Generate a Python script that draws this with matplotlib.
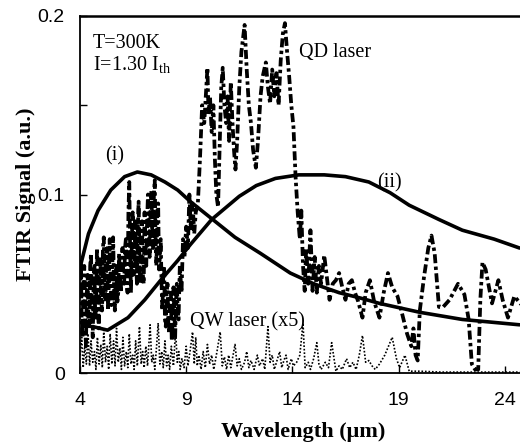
import matplotlib
matplotlib.use("Agg")
import matplotlib.pyplot as plt

# ---- data ----
curve_i_x = [4.0, 4.4, 4.85, 5.45, 6.1, 6.7, 7.35, 8.0, 8.6, 9.2, 10.25, 11.3, 12.5, 13.9,
             15.0, 16.2, 17.2, 18.1, 20.0, 22.0, 24.7]
curve_i_y = [0.059, 0.078, 0.091, 0.1025, 0.110, 0.1126, 0.111, 0.107, 0.1025, 0.096, 0.086,
             0.076, 0.067, 0.056, 0.050, 0.045, 0.042, 0.039, 0.034, 0.030, 0.027]

curve_ii_x = [4.6, 5.3, 6.26, 7.05, 7.8, 8.6, 9.2, 10.2, 10.7, 11.5, 12.3, 13.2, 14.3, 15.5,
              16.5, 17.6, 18.6, 19.5, 20.9, 22.0, 23.5, 24.7]
curve_ii_y = [0.026, 0.024, 0.031, 0.041, 0.052, 0.063, 0.072, 0.086, 0.091, 0.099, 0.105,
              0.109, 0.111, 0.111, 0.110, 0.107, 0.101, 0.094, 0.086, 0.080, 0.075, 0.070]

qd_x = [4.00, 4.04, 4.08, 4.12, 4.16, 4.20, 4.24, 4.28, 4.32, 4.36, 4.40, 4.44, 4.48, 4.52,
        4.56, 4.60, 4.64, 4.68, 4.72, 4.76, 4.80, 4.84, 4.88, 4.92, 4.96, 5.00, 5.04, 5.08,
        5.12, 5.16, 5.20, 5.24, 5.28, 5.32, 5.36, 5.40, 5.44, 5.48, 5.52, 5.56, 5.60, 5.64,
        5.68, 5.72, 5.76, 5.80, 5.84, 5.88, 5.92, 5.96, 6.00, 6.04, 6.08, 6.12, 6.16, 6.20,
        6.24, 6.28, 6.32, 6.36, 6.40, 6.44, 6.48, 6.52, 6.56, 6.60, 6.64, 6.68, 6.72, 6.76,
        6.80, 6.84, 6.88, 6.92, 6.96, 7.00, 7.04, 7.08, 7.12, 7.16, 7.20, 7.24, 7.28, 7.32,
        7.36, 7.40, 7.44, 7.48, 7.52, 7.56, 7.60, 7.64, 7.68, 7.72, 7.76, 7.80, 7.84, 7.88,
        7.92, 7.96, 8.00, 8.04, 8.08, 8.12, 8.16, 8.20, 8.24, 8.28, 8.32, 8.36, 8.40, 8.44,
        8.48, 8.52, 8.56, 8.60, 8.64, 8.70, 8.78, 8.85, 8.92, 9.0, 9.08, 9.15, 9.22, 9.3,
        9.38, 9.45, 9.55,
        9.65, 9.75, 9.85, 9.95, 10.0, 10.05, 10.12, 10.2, 10.28, 10.35, 10.42, 10.5, 10.58,
        10.65, 10.72, 10.8, 10.88, 10.95, 11.02, 11.1, 11.18, 11.25, 11.32, 11.4, 11.5, 11.6,
        11.75, 11.85, 11.95, 12.05, 12.15, 12.28, 12.38, 12.5, 12.6, 12.75, 12.85, 12.95,
        13.05, 13.15, 13.25, 13.35, 13.45, 13.55, 13.65, 13.75, 13.85, 13.95, 14.05, 14.15,
        14.25, 14.35, 14.42, 14.5, 14.58, 14.65, 14.75, 14.85, 14.95, 15.05, 15.15, 15.25,
        15.35, 15.5, 15.62, 15.75, 15.9, 16.05, 16.2, 16.35, 16.5, 16.65, 16.8, 16.95, 17.1,
        17.3, 17.45, 17.65, 17.85, 18.1, 18.3, 18.5, 18.7, 18.95, 19.15, 19.4, 19.6, 19.7,
        19.8, 19.9, 20.0, 20.2, 20.4, 20.55, 20.7, 20.9, 21.1, 21.4, 21.8, 22.1, 22.3, 22.45,
        22.6, 22.75, 22.85, 22.95, 23.1, 23.4, 23.7, 23.9, 24.15, 24.45, 24.8]
qd_y = [0.045, 0.062, 0.030, 0.020, 0.050, 0.060, 0.030, 0.015, 0.045, 0.055, 0.028, 0.025,
        0.060, 0.067, 0.035, 0.020, 0.050, 0.060, 0.030, 0.040, 0.070, 0.050, 0.025, 0.055,
        0.065, 0.040, 0.035, 0.070, 0.076, 0.050, 0.040, 0.065, 0.070, 0.035, 0.050, 0.075,
        0.055, 0.038, 0.060, 0.076, 0.050, 0.035, 0.055, 0.060, 0.040, 0.045, 0.067, 0.055,
        0.045, 0.060, 0.070, 0.055, 0.050, 0.070, 0.075, 0.050, 0.045, 0.090, 0.107, 0.070,
        0.045, 0.075, 0.090, 0.055, 0.060, 0.085, 0.065, 0.050, 0.080, 0.096, 0.065, 0.050,
        0.075, 0.085, 0.055, 0.050, 0.090, 0.075, 0.060, 0.085, 0.100, 0.080, 0.065, 0.090,
        0.102, 0.080, 0.070, 0.100, 0.108, 0.075, 0.060, 0.090, 0.095, 0.058, 0.065, 0.075,
        0.050, 0.035, 0.055, 0.060, 0.030, 0.026, 0.045, 0.050, 0.028, 0.022, 0.040, 0.045,
        0.018, 0.030, 0.048, 0.035, 0.020, 0.040, 0.050, 0.035, 0.030, 0.060, 0.045, 0.075,
        0.065, 0.082, 0.070, 0.100, 0.080, 0.095, 0.078, 0.090, 0.095,
        0.12, 0.15, 0.14,
        0.16, 0.171, 0.145, 0.155, 0.135, 0.15, 0.12, 0.1, 0.093, 0.13, 0.16, 0.171, 0.15,
        0.14, 0.155, 0.13, 0.163, 0.14, 0.125, 0.114, 0.13, 0.16, 0.18, 0.195, 0.17, 0.15,
        0.14, 0.125, 0.115, 0.13, 0.155, 0.166, 0.174, 0.16, 0.151, 0.17, 0.155, 0.168, 0.15,
        0.175, 0.19, 0.196, 0.18, 0.166, 0.15, 0.138, 0.11, 0.09, 0.075, 0.091, 0.06, 0.046,
        0.07, 0.05, 0.08, 0.046, 0.065, 0.045, 0.06, 0.05, 0.066, 0.054, 0.041, 0.05, 0.052,
        0.056, 0.048, 0.041, 0.05, 0.052, 0.045, 0.04, 0.031, 0.045, 0.052, 0.04, 0.031,
        0.045, 0.056, 0.048, 0.043, 0.034, 0.022, 0.015, 0.025, 0.01, 0.007, 0.035, 0.054,
        0.07, 0.077, 0.067, 0.037, 0.037, 0.041, 0.05, 0.044, 0.03, 0.005, 0.002, 0.002,
        0.041, 0.062, 0.058, 0.039, 0.052, 0.041, 0.031, 0.043, 0.038]

qw_x = [4.0, 4.08, 4.15, 4.22, 4.3, 4.38, 4.45, 4.52, 4.6, 4.68, 4.75, 4.82, 4.9, 4.98, 5.05,
        5.12, 5.2, 5.28, 5.35, 5.42, 5.5, 5.58, 5.65, 5.72, 5.8, 5.88, 5.95, 6.02, 6.1, 6.18,
        6.25, 6.32, 6.4, 6.48, 6.55, 6.62, 6.7, 6.8, 6.88, 6.95, 7.02, 7.1, 7.18, 7.3, 7.38,
        7.45, 7.52, 7.6, 7.68, 7.76, 7.85, 7.92, 8.0, 8.08, 8.15, 8.22, 8.3, 8.4, 8.5, 8.58,
        8.65, 8.72, 8.8, 8.9, 9.0, 9.08, 9.18, 9.3, 9.38, 9.45, 9.52, 9.6, 9.7, 9.8, 9.9,
        10.0, 10.1, 10.2, 10.3, 10.45, 10.6, 10.7, 10.8, 10.9, 11.0, 11.1, 11.3, 11.4, 11.5,
        11.6, 11.75, 11.85, 11.95, 12.05, 12.2, 12.35, 12.45, 12.6, 12.7, 12.85, 12.95, 13.05,
        13.15, 13.3, 13.4, 13.5, 13.6, 13.7, 13.8, 13.95, 14.05, 14.2, 14.35, 14.5, 14.6,
        14.75, 14.85, 15.0, 15.15, 15.25, 15.35, 15.55, 15.7, 15.85, 15.95, 16.05, 16.2,
        16.35, 16.55, 16.7, 16.85, 17.0, 17.15, 17.3, 17.45, 17.6, 17.75, 17.9, 18.1, 18.35,
        18.7, 18.9, 19.05, 19.3, 19.5, 20.0, 21.0, 24.7]
qw_y = [0.01, 0.02, 0.003, 0.015, 0.005, 0.022, 0.004, 0.018, 0.006, 0.012, 0.002, 0.02,
        0.005, 0.016, 0.003, 0.024, 0.006, 0.015, 0.002, 0.022, 0.005, 0.018, 0.004, 0.025,
        0.006, 0.014, 0.002, 0.02, 0.004, 0.012, 0.003, 0.022, 0.005, 0.01, 0.002, 0.018,
        0.004, 0.026, 0.005, 0.012, 0.003, 0.015, 0.004, 0.027, 0.006, 0.01, 0.002, 0.014,
        0.028, 0.005, 0.012, 0.003, 0.018, 0.004, 0.01, 0.002, 0.015, 0.004, 0.024, 0.006,
        0.012, 0.002, 0.008, 0.003, 0.015, 0.004, 0.012, 0.023, 0.005, 0.02, 0.004, 0.01,
        0.002, 0.012, 0.003, 0.016, 0.005, 0.01, 0.002, 0.012, 0.023, 0.004, 0.009, 0.002,
        0.01, 0.003, 0.016, 0.004, 0.008, 0.002, 0.006, 0.012, 0.003, 0.007, 0.002, 0.01,
        0.004, 0.008, 0.002, 0.026, 0.006, 0.01, 0.002, 0.008, 0.012, 0.003, 0.007, 0.01,
        0.002, 0.008, 0.004, 0.006, 0.01, 0.028, 0.003, 0.006, 0.002, 0.008, 0.017, 0.005,
        0.002, 0.006, 0.003, 0.017, 0.009, 0.001, 0.004, 0.002, 0.008, 0.003, 0.006, 0.002,
        0.01, 0.021, 0.006, 0.007, 0.004, 0.002, 0.005, 0.01, 0.02, 0.008, 0.003, 0.01,
        0.001, 0.001, 0.0005, 0.0005]

x_ticks = [4, 9, 14, 19, 24]
y_ticks = [0, 0.1, 0.2]
y_ticklabels = ["0", "0.1", "0.2"]

# ---- figure ----
plt.rcParams["mathtext.fontset"] = "custom"
plt.rcParams["mathtext.rm"] = "Liberation Serif"
plt.rcParams["mathtext.it"] = "Liberation Serif:italic"

W, H = 520, 447
fig = plt.figure(figsize=(W / 100, H / 100), dpi=100)
ax = fig.add_axes([80 / W, 74 / H, 446 / W, 357 / H])

ax.plot(qw_x, qw_y, color="black", lw=1.2, linestyle=(0, (1, 1.1)))
ax.plot(qd_x, qd_y, color="black", lw=2.7, linestyle=(0, (2.4, 0.9, 0.9, 0.9)))
ax.plot(curve_i_x, curve_i_y, color="black", lw=2.6, solid_capstyle="round")
ax.plot(curve_ii_x, curve_ii_y, color="black", lw=2.6, solid_capstyle="round")

ax.set_xlim(4, 25)
ax.set_ylim(0, 0.2)
ax.set_xticks(x_ticks)
ax.set_yticks(y_ticks)
ax.set_yticklabels(y_ticklabels)
ax.set_yticks([0.05, 0.15], minor=True)
ax.tick_params(axis="both", which="both", direction="in", length=5, width=1)
ax.tick_params(axis="x", pad=14)
ax.tick_params(axis="y", pad=11)
for lab in ax.get_xticklabels() + ax.get_yticklabels():
    lab.set_fontfamily("Liberation Sans")
    lab.set_fontsize(14)
for s in ax.spines.values():
    s.set_linewidth(1.3)
ax.spines["top"].set_linewidth(1.8)

ax.set_xlabel("Wavelength (μm)", fontfamily="Liberation Serif", fontweight="bold",
              fontsize=16, labelpad=9)
ax.set_ylabel("FTIR Signal (a.u.)", fontfamily="Liberation Serif", fontweight="bold",
              fontsize=16, labelpad=1)

tkw = dict(fontfamily="Liberation Serif", fontsize=14.5, va="baseline", ha="left")
ax.text(4.6, 0.182, "T=300K", **tkw)
ax.text(4.6, 0.170, r"I=1.30 I$_{\mathrm{th}}$", **tkw)
ax.text(14.3, 0.177, "QD laser", **tkw)
ax.text(5.2, 0.119, "(i)", **tkw)
ax.text(18.0, 0.104, "(ii)", **tkw)
ax.text(9.2, 0.026, "QW laser (x5)", **tkw)

fig.savefig("out.png", dpi=100)
